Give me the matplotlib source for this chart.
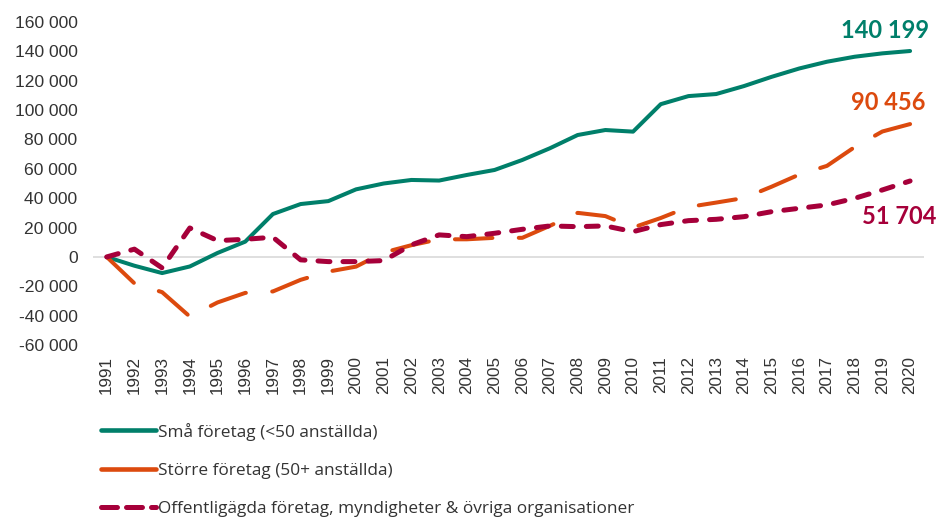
import matplotlib
matplotlib.use("Agg")
import matplotlib.pyplot as plt
from matplotlib.lines import Line2D
from matplotlib.ticker import FuncFormatter

plt.rcParams['font.family'] = ['Liberation Sans', 'DejaVu Sans']
plt.rcParams['lines.scale_dashes'] = False

years = list(range(1991, 2021))

sma = [0, -6000, -11000, -6500, 2700, 10400, 29200, 36000, 38000, 46000,
       50000, 52400, 52000, 55800, 59200, 66000, 74000, 83000, 86400, 85300,
       104000, 109500, 110900, 116300, 122600, 128300, 132900, 136300, 138600, 140199]
storre = [0, -18000, -24000, -40600, -31000, -24500, -23500, -15600, -10000, -6600,
          3000, 8000, 12000, 12000, 13000, 13000, 21200, 30000, 27800, 20000,
          26500, 34000, 37000, 40100, 47800, 56100, 62000, 74800, 85400, 90456]
offentlig = [0, 5300, -7500, 19700, 11100, 12000, 13400, -2000, -3200, -3200,
             -2500, 8200, 15000, 13800, 16100, 18800, 21100, 20600, 21100, 17200,
             22000, 24700, 25600, 27400, 30800, 33100, 35400, 39900, 45600, 51704]

labels = ["Små företag (<50 anställda)",
          "Större företag (50+ anställda)",
          "Offentligägda företag, myndigheter & övriga organisationer"]
end_labels = ["140 199", "90 456", "51 704"]

green = "#007F6A"
orange = "#DC4A0E"
magenta = "#A6003A"

fig = plt.figure(figsize=(9.38, 5.22), dpi=100)
ax = fig.add_axes([0.099, 0.339, 0.886, 0.619])

ax.axhline(0, color="#d9d9d9", lw=1.2, zorder=1)

ax.plot(years, sma, color=green, lw=2.9, solid_capstyle='round', zorder=3)
ax.plot(years, storre, color=orange, lw=2.9, dashes=(27, 19),
        dash_capstyle='round', zorder=3)
ax.plot(years, offentlig, color=magenta, lw=3.6, dashes=(8.6, 9.4),
        dash_capstyle='round', zorder=4)

ax.text(2019.1, 154400, end_labels[0], color=green, fontsize=17, fontweight='bold',
        family='Lato', ha='center', va='center')
ax.text(2019.2, 104800, end_labels[1], color=orange, fontsize=17, fontweight='bold',
        family='Lato', ha='center', va='center')
ax.text(2019.6, 27200, end_labels[2], color=magenta, fontsize=17, fontweight='bold',
        family='Lato', ha='center', va='center')

ax.set_xlim(1990.5, 2020.5)
ax.set_ylim(-60000, 160000)
ax.set_xticks(years)
ax.set_xticklabels([str(y) for y in years], rotation=90)
ax.set_yticks(range(-60000, 160001, 20000))
ax.yaxis.set_major_formatter(FuncFormatter(lambda v, p: f"{int(v):,}".replace(",", " ")))
ax.tick_params(axis='y', length=0, pad=11, labelsize=12.6, labelcolor="#333333")
ax.tick_params(axis='x', length=0, pad=8, labelsize=12.3, labelcolor="#333333")
for s in ax.spines.values():
    s.set_visible(False)

# legend handles (drawn as in the original legend)
h1 = Line2D([], [], color=green, lw=3.3, solid_capstyle='round')
h2 = Line2D([], [], color=orange, lw=3.3, solid_capstyle='round')
h3 = Line2D([], [], color=magenta, lw=3.6, dashes=(11.5, 6.5), dash_capstyle='round')

fig.legend([h1, h2, h3], labels, loc='upper left', bbox_to_anchor=(0.098, 0.207),
           frameon=False, prop={'family': 'Open Sans', 'size': 12.4},
           handlelength=3.2, handletextpad=0.15, labelspacing=1.3, borderpad=0,
           labelcolor="#333333")

fig.savefig("out.png", dpi=100)
